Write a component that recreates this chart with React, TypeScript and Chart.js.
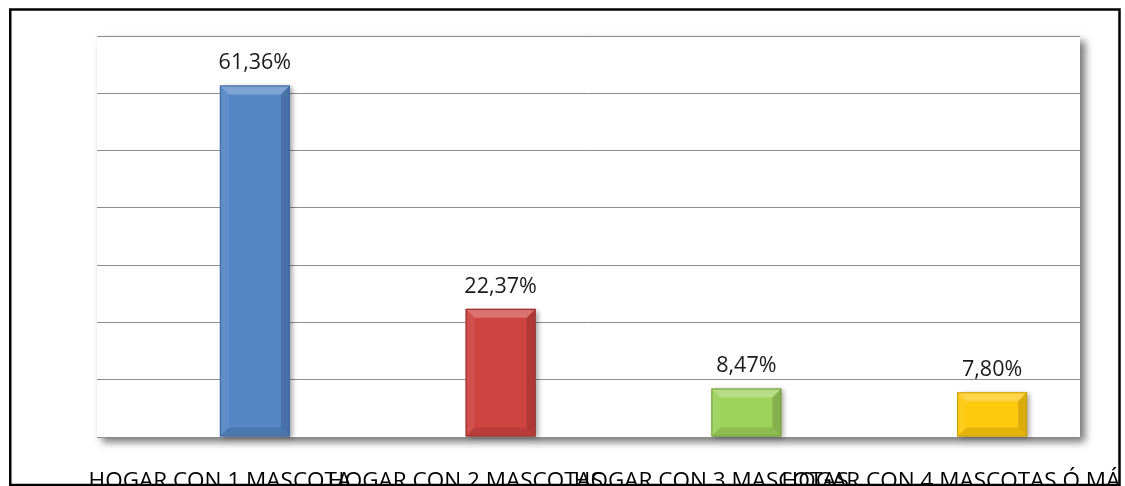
import React, { useEffect, useRef } from "react";
import { Chart, registerables } from "chart.js";

Chart.register(...registerables);

const categories = [
  "HOGAR CON 1 MASCOTA",
  "HOGAR CON 2 MASCOTAS",
  "HOGAR CON 3 MASCOTAS",
  "HOGAR CON 4 MASCOTAS Ó MÁS",
];
const percentages = [61.36, 22.37, 8.47, 7.8];
const placeholder = [null, null, null, null];
const barColors = ["#5586C5", "#CF4441", "#9DD25B", "#FFC90E"];
const barBorders = ["#3A659E", "#8E2B29", "#6E9A38", "#C89A00"];
const yMax = 70;
const yStep = 10;

const FONT = "'Open Sans', 'DejaVu Sans', sans-serif";

function fmt(v: number) {
  return v.toFixed(2).replace(".", ",") + "%";
}

const framePlugin = {
  id: "frame",
  beforeDraw(chart: any) {
    const { ctx, chartArea: a } = chart;
    ctx.save();
    ctx.fillStyle = "#ffffff";
    ctx.fillRect(0, 0, chart.width, chart.height);
    ctx.shadowColor = "rgba(0,0,0,0.55)";
    ctx.shadowBlur = 8;
    ctx.shadowOffsetX = 5;
    ctx.shadowOffsetY = 5;
    ctx.fillStyle = "#ffffff";
    ctx.fillRect(a.left, a.top, a.right - a.left, a.bottom - a.top);
    ctx.restore();
  },
  beforeDatasetsDraw(chart: any) {
    const { ctx } = chart;
    const meta = chart.getDatasetMeta(1);
    ctx.save();
    ctx.shadowColor = "rgba(0,0,0,0.35)";
    ctx.shadowBlur = 5;
    ctx.shadowOffsetX = 3;
    ctx.shadowOffsetY = 2;
    ctx.fillStyle = "#ffffff";
    meta.data.forEach((bar: any) => {
      ctx.fillRect(bar.x - bar.width / 2, bar.y, bar.width, bar.base - bar.y - 1);
    });
    ctx.restore();
  },
  afterDatasetsDraw(chart: any) {
    const { ctx } = chart;
    const meta = chart.getDatasetMeta(1);
    meta.data.forEach((bar: any, i: number) => {
      const v = percentages[i];
      if (v == null) return;
      const left = bar.x - bar.width / 2;
      const right = bar.x + bar.width / 2;
      const top = bar.y;
      const bottom = bar.base;
      const h = bottom - top;
      const b = Math.min(9, h / 2);
      ctx.save();
      ctx.fillStyle = "rgba(255,255,255,0.25)";
      ctx.beginPath();
      ctx.moveTo(left, top);
      ctx.lineTo(right, top);
      ctx.lineTo(right - b, top + b);
      ctx.lineTo(left + b, top + b);
      ctx.closePath();
      ctx.fill();
      ctx.fillStyle = "rgba(255,255,255,0.06)";
      ctx.beginPath();
      ctx.moveTo(left, top);
      ctx.lineTo(left + b, top + b);
      ctx.lineTo(left + b, bottom - b);
      ctx.lineTo(left, bottom);
      ctx.closePath();
      ctx.fill();
      ctx.fillStyle = "rgba(0,0,0,0.15)";
      ctx.beginPath();
      ctx.moveTo(right, top);
      ctx.lineTo(right - b, top + b);
      ctx.lineTo(right - b, bottom - b);
      ctx.lineTo(right, bottom);
      ctx.closePath();
      ctx.fill();
      ctx.fillStyle = "rgba(0,0,0,0.1)";
      ctx.beginPath();
      ctx.moveTo(left, bottom);
      ctx.lineTo(left + b, bottom - b);
      ctx.lineTo(right - b, bottom - b);
      ctx.lineTo(right, bottom);
      ctx.closePath();
      ctx.fill();
      ctx.strokeStyle = barBorders[i];
      ctx.lineWidth = 1;
      ctx.strokeRect(left + 0.5, top + 0.5, bar.width - 1, h - 1);
      ctx.fillStyle = "#1a1a1a";
      ctx.font = `21.5px ${FONT}`;
      ctx.textAlign = "center";
      ctx.textBaseline = "alphabetic";
      ctx.fillText(fmt(v), bar.x, top - 16);
      ctx.restore();
    });
  },
  afterDraw(chart: any) {
    const { ctx } = chart;
    ctx.save();
    ctx.fillStyle = "#ffffff";
    ctx.fillRect(1120, 0, chart.width - 1120, chart.height);
    ctx.fillRect(0, 0, 9, chart.height);
    ctx.strokeStyle = "#000000";
    ctx.lineWidth = 2.5;
    ctx.strokeRect(10.25, 9.5, 1109.25, 475.5);
    ctx.restore();
  },
};

export default function App() {
  const ref = useRef<HTMLCanvasElement | null>(null);
  useEffect(() => {
    if (!ref.current) return;
    const chart = new Chart(ref.current, {
      type: "bar",
      data: {
        labels: categories,
        datasets: [
          {
            data: placeholder,
            backgroundColor: "rgba(0,0,0,0)",
            barPercentage: 1,
            categoryPercentage: 0.5697,
          },
          {
            data: percentages,
            backgroundColor: barColors,
            borderWidth: 0,
            barPercentage: 1,
            categoryPercentage: 0.5697,
          },
        ],
      },
      options: {
        responsive: false,
        animation: false,
        layout: { padding: { top: 36, left: 97, right: 45, bottom: 0 } },
        plugins: {
          legend: { display: false },
          tooltip: { enabled: false },
        },
        scales: {
          x: {
            grid: { display: false, drawTicks: false },
            border: { display: false },
            ticks: {
              color: "#000000",
              font: { family: FONT, size: 22.5 },
              maxRotation: 0,
              minRotation: 0,
              autoSkip: false,
              padding: 31,
            },
            afterFit(scale: any) {
              scale.height = 49;
              scale.paddingLeft = 0;
              scale.paddingRight = 0;
            },
          },
          y: {
            min: 0,
            max: yMax,
            ticks: { display: false, stepSize: yStep },
            grid: { color: "#8c8c8c", lineWidth: 1, drawTicks: false },
            border: { display: false },
            afterFit(scale: any) {
              scale.width = 0;
            },
          },
        },
      },
      plugins: [framePlugin],
    });
    return () => chart.destroy();
  }, []);
  return (
    <div style={{ position: "fixed", left: 0, top: 0, width: 1125, height: 486, background: "#fff" }}>
      <canvas ref={ref} width={1125} height={486} style={{ display: "block" }} />
    </div>
  );
}
